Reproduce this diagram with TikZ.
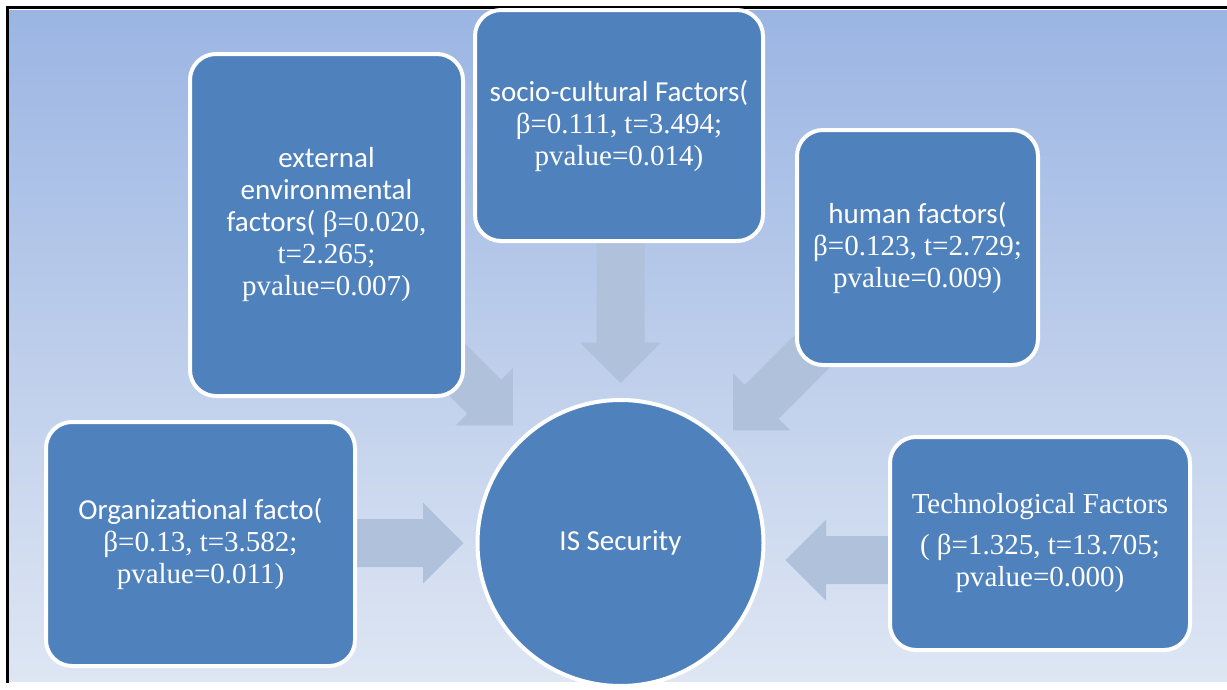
\documentclass[tikz,border=0pt]{standalone}
\usepackage{fontspec}
\setmainfont{Liberation Serif}
\newfontfamily\calibrifont{Carlito}
\usepackage{tikz}
\usetikzlibrary{positioning, calc}

\definecolor{boxblue}{RGB}{79,129,189}
\definecolor{arrowfill}{RGB}{176,193,219}
\definecolor{bgtop}{RGB}{155,181,227}
\definecolor{bgbot}{RGB}{222,230,243}

\pgfdeclarelayer{background}
\pgfsetlayers{background,main}

\tikzset{
	factor/.style={draw=white, line width=4pt, fill=boxblue, rounded corners=26pt, text=white, 
	align=center, inner sep=0pt, font=\fontsize{29}{32}\selectfont},
	pics/blockarrow/.style={code={
		\fill[arrowfill] (-#1,-24) -- (-40.5,-24) -- (-40.5,-40.5) -- (0,0) -- (-40.5,40.5) -- 
		(-40.5,24) -- (-#1,24) -- cycle;}}
}

\begin{document}
\begin{tikzpicture}[x=1pt, y=-1pt]
		\useasboundingbox (0,0) rectangle (1227,689);
		
		\node (extFactors) at (326.5,225) [factor, minimum width=273pt, minimum height=342pt]
		{\calibrifont external\\ \calibrifont environmental\\ {\calibrifont factors(} 
		β=0.020,\\ t=2.265;\\ pvalue=0.007)};
		
		\node (socioFactors) at (619,125.5) [factor, minimum width=288pt, minimum height=231pt]
		{\calibrifont socio-cultural Factors(\\ β=0.111, t=3.494;\\ pvalue=0.014)};
		
		\node (humanFactors) at (917.5,247.5) [factor, minimum width=241pt, minimum height=235pt]
		{\calibrifont human factors(\\ β=0.123, t=2.729;\\ pvalue=0.009)};
		
		\node (orgFactors) at (200.5,544) [factor, minimum width=309pt, minimum height=244pt]
		{\calibrifont Organizational facto(\\ β=0.13, t=3.582;\\ pvalue=0.011)};
		
		\node (techFactors) at (1040,543.5) [factor, minimum width=300pt, minimum height=213pt]
		{Technological Factors\\[9pt] ( β=1.325, t=13.705;\\ pvalue=0.000)};
		
		\node (isSecurity) at (620.5,543) [factor, circle, minimum size=286pt]
		{\calibrifont IS Security};
		
		%Arrow tips
		\coordinate (tipSocio) at ($(isSecurity.north)+(0,-15)$);
		\coordinate (tipOrg) at ($(isSecurity.west)+(-12,0)$);
		\coordinate (tipTech) at ($(isSecurity.east)+(20,17)$);
		\coordinate (tipExt) at ($(isSecurity.north west)+(-5,-15)$);
		\coordinate (tipHuman) at ($(isSecurity.north east)+(10,-10)$);
		
		\begin{pgfonlayer}{background}
		\shade[top color=bgtop, bottom color=bgbot] (8,10) rectangle (1227,681);
		\draw[line width=3pt] (7,683) -- (7,7) -- (1227,7);
		
		%Arrows
		\pic[rotate=-90] at (tipSocio) {blockarrow=155};
		\pic[rotate=0] at (tipOrg) {blockarrow=125};
		\pic[rotate=180] at (tipTech) {blockarrow=116};
		\pic[rotate=-45] at (tipExt) {blockarrow=125};
		\pic[rotate=-135] at (tipHuman) {blockarrow=125};
		\end{pgfonlayer}
		
\end{tikzpicture}
\end{document}
